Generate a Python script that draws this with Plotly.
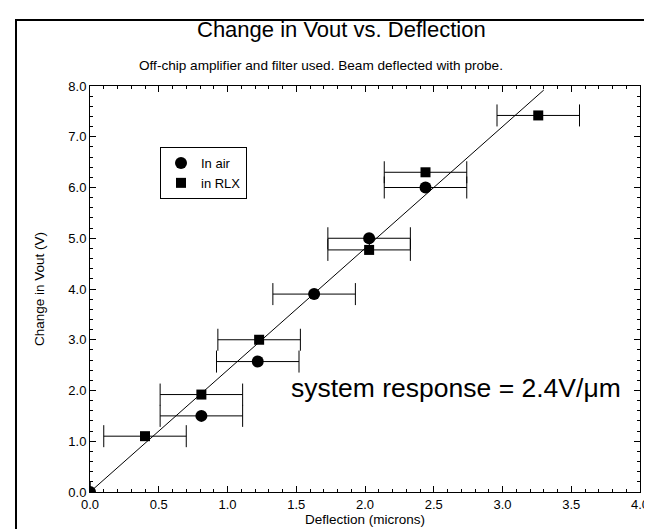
import plotly.graph_objects as go

air_x = [0.0, 0.81, 1.22, 1.63, 2.03, 2.44]
air_y = [0.0, 1.50, 2.57, 3.90, 5.00, 6.00]
air_err = [0.0, 0.3, 0.3, 0.3, 0.3, 0.3]

rlx_x = [0.40, 0.81, 1.23, 2.03, 2.44, 3.26]
rlx_y = [1.10, 1.92, 3.00, 4.77, 6.30, 7.42]
rlx_err = [0.3, 0.3, 0.3, 0.3, 0.3, 0.3]

fit_x = [0.0, 3.30]
fit_y = [0.0, 7.92]

FONT = "Liberation Sans, Arial, sans-serif"

L, R, T, B = 82, 20, 78, 45
W, H = 652, 529
PW, PH = W - L - R, H - T - B


def px(x):
    return (x - L) / PW


def py(y):
    return (H - B - y) / PH


fig = go.Figure()
fig.add_trace(go.Scatter(x=fit_x, y=fit_y, mode="lines", line=dict(color="black", width=1),
                         showlegend=False, hoverinfo="skip"))
fig.add_trace(go.Scatter(x=air_x, y=air_y, mode="markers", name="In air",
                         marker=dict(symbol="circle", size=12, color="black"),
                         error_x=dict(type="data", array=air_err, color="black", thickness=1, width=11)))
fig.add_trace(go.Scatter(x=rlx_x, y=rlx_y, mode="markers", name="in RLX",
                         marker=dict(symbol="square", size=10, color="black"),
                         error_x=dict(type="data", array=rlx_err, color="black", thickness=1, width=11)))

axis_common = dict(showgrid=False, zeroline=False, showline=True, linecolor="black", linewidth=1,
                   mirror="ticks", ticks="inside", ticklen=6, tickcolor="black",
                   tickfont=dict(family=FONT, size=13, color="black"), tickformat=".1f")
fig.update_xaxes(range=[0, 4], dtick=0.5,
                 title=dict(text="Deflection (microns)", font=dict(family=FONT, size=13.5, color="black"), standoff=0),
                 minor=dict(ticks="inside", ticklen=3, dtick=0.1, tickcolor="black"), **axis_common)
fig.update_yaxes(range=[0, 8], dtick=1,
                 title=dict(text="Change in Vout (V)", font=dict(family=FONT, size=13.5, color="black"), standoff=20),
                 minor=dict(ticks="inside", ticklen=3, dtick=0.2, tickcolor="black"), **axis_common)

fig.update_layout(
    width=W, height=H,
    margin=dict(l=L, r=R, t=T, b=B),
    paper_bgcolor="white", plot_bgcolor="white",
    font=dict(family=FONT, color="black"),
    showlegend=True,
    legend=dict(x=px(152), y=py(139), xanchor="left", yanchor="top", bgcolor="white",
                bordercolor="black", borderwidth=1, font=dict(family=FONT, size=13, color="black"),
                tracegroupgap=0, itemwidth=30, entrywidth=62, entrywidthmode="pixels"),
    annotations=[
        dict(text="Change in Vout vs. Deflection", xref="paper", yref="paper", x=px(333), y=py(22),
             showarrow=False, font=dict(family=FONT, size=22, color="black"), xanchor="center", yanchor="middle"),
        dict(text="Off-chip amplifier and filter used. Beam deflected with probe.", xref="paper", yref="paper",
             x=px(313), y=py(57), showarrow=False, font=dict(family=FONT, size=13.6, color="black"),
             xanchor="center", yanchor="middle"),
        dict(text="system response = 2.4V/\u03bcm", xref="paper", yref="paper", x=px(448), y=py(380),
             showarrow=False, font=dict(family=FONT, size=26.5, color="black"), xanchor="center", yanchor="middle"),
    ],
    shapes=[
        dict(type="rect", xref="paper", yref="paper", x0=px(8), x1=px(662), y0=py(600), y1=py(12),
             line=dict(color="black", width=2), fillcolor="rgba(0,0,0,0)", layer="below"),
    ],
)

fig.write_html("out.html")
